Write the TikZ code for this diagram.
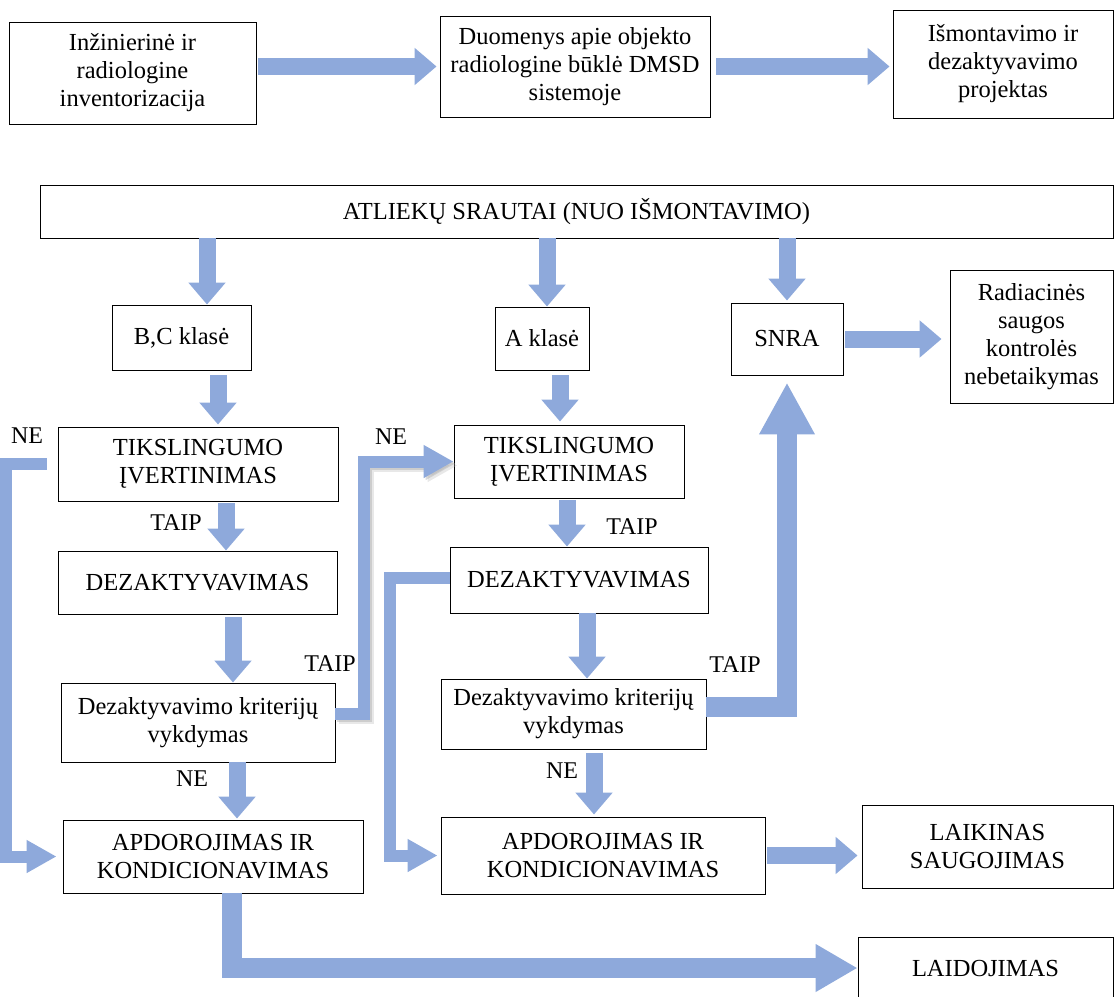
\documentclass[tikz,border=0pt]{standalone}
\usepackage{fontspec}
\setmainfont{Liberation Serif}
\usetikzlibrary{arrows.meta}
\definecolor{flowblue}{RGB}{142,169,219}

\begin{document}
\begin{tikzpicture}[x=1pt,y=-1pt,
                box/.style = {draw, line width=0.9pt, align=center, inner sep=2pt, font=\fontsize{24.5}{28}\selectfont},
                lbl/.style = {font=\fontsize{24}{28}\selectfont},
                flow/.style = {draw=flowblue, line width=17pt, -{Triangle[width=36pt,length=22pt]}},
                thinflow/.style = {draw=flowblue, line width=12pt, -{Triangle[width=31pt,length=30pt]}},
                bigflow/.style = {draw=flowblue, line width=20pt, -{Triangle[width=52pt,length=52pt]}}]
                \useasboundingbox (0,0) rectangle (1115,996);
                % top row
                \node[box, minimum width=247pt, minimum height=102pt] (inz) at (132.5,73) {Inžinierinė ir\\radiologine\\inventorizacija};
                \node[box, minimum width=270pt, minimum height=101pt] (duom) at (575,66.5) {Duomenys apie objekto\\radiologine būklė DMSD\\sistemoje};
                \node[box, minimum width=220pt, minimum height=108pt] (ismont) at (1003,64) {Išmontavimo ir\\dezaktyvavimo\\projektas};
                % waste streams
                \node[box, minimum width=1073pt, minimum height=53pt] (atl) at (576.5,211.5) {ATLIEKŲ SRAUTAI (NUO IŠMONTAVIMO)};
                \node[box, minimum width=139pt, minimum height=65pt] (bc) at (181.5,337.5) {B,C klasė};
                \node[box, minimum width=94pt, minimum height=63pt] (akl) at (542,338.5) {A klasė};
                \node[box, minimum width=112pt, minimum height=72pt] (snra) at (787,339) {SNRA};
                \node[box, minimum width=163pt, minimum height=133pt] (rad) at (1031.5,336.5) {Radiacinės\\saugos\\kontrolės\\nebetaikymas};
                \node[box, minimum width=280pt, minimum height=74pt] (tik1) at (198,464) {TIKSLINGUMO\\ĮVERTINIMAS};
                \node[box, minimum width=230pt, minimum height=73pt] (tik2) at (569,461.5) {TIKSLINGUMO\\ĮVERTINIMAS};
                \node[box, minimum width=279pt, minimum height=63pt] (dez1) at (197.5,582.5) {DEZAKTYVAVIMAS};
                \node[box, minimum width=258pt, minimum height=66pt] (dez2) at (579,580) {DEZAKTYVAVIMAS};
                \node[box, minimum width=274pt, minimum height=79pt] (krit1) at (198,722.5) {Dezaktyvavimo kriterijų\\vykdymas};
                \node[box, minimum width=265pt, minimum height=70pt] (krit2) at (573.5,714) {Dezaktyvavimo kriterijų\\vykdymas};
                \node[box, minimum width=300pt, minimum height=73pt] (apd1) at (213,856.5) {APDOROJIMAS IR\\KONDICIONAVIMAS};
                \node[box, minimum width=324pt, minimum height=77pt] (apd2) at (603,855.5) {APDOROJIMAS IR\\KONDICIONAVIMAS};
                \node[box, minimum width=251pt, minimum height=83pt] (laik) at (987.5,846.5) {LAIKINAS\\SAUGOJIMAS};
                \node[box, minimum width=255pt, minimum height=62pt] (laid) at (985.5,968) {LAIDOJIMAS};
                % labels
                \node[lbl] (ne1) at (27,436) {NE};
                \node[lbl] (ne2) at (391,437) {NE};
                \node[lbl] (ne3) at (192,779) {NE};
                \node[lbl] (ne4) at (562,771) {NE};
                \node[lbl] (taip1) at (176,523) {TAIP};
                \node[lbl] (taip2) at (330,664) {TAIP};
                \node[lbl] (taip3) at (632,527) {TAIP};
                \node[lbl] (taip4) at (735,665) {TAIP};
                % arrow ends
                \coordinate (bcin) at ([xshift=25.5pt]bc.north);
                \coordinate (akin) at ([xshift=5pt]akl.north);
                \coordinate (bcout) at ([xshift=36.5pt]bc.south);
                \coordinate (akout) at ([xshift=18pt]akl.south);
                \coordinate (t1out) at ([xshift=28pt]tik1.south);
                \coordinate (t2out) at ([xshift=-2pt]tik2.south);
                \coordinate (d1out) at ([xshift=35.5pt]dez1.south);
                \coordinate (d2out) at ([xshift=8pt]dez2.south);
                \coordinate (k1out) at ([xshift=39pt]krit1.south);
                \coordinate (k2out) at ([xshift=20.5pt]krit2.south);
                \coordinate (k1east) at ([yshift=9pt]krit1.east);
                \coordinate (k2east) at ([yshift=7pt]krit2.east);
                \coordinate (d2west) at ([yshift=2pt]dez2.west);
                \coordinate (a1out) at ([xshift=19pt]apd1.south);
                % arrows
                \draw[flow, shorten <=2pt, shorten >=3pt] (inz.east |- duom.west) -- (duom.west);
                \draw[flow, shorten <=6pt, shorten >=3pt] (duom.east) -- (duom.east -| ismont.west);
                \draw[flow] (atl.south -| bcin) -- (bcin);
                \draw[flow] (atl.south -| akin) -- (akin);
                \draw[flow, shorten >=2pt] (atl.south -| snra.north) -- (snra.north);
                \draw[flow, shorten <=2pt, shorten >=8pt] (snra.east) -- (snra.east -| rad.west);
                \draw[flow, shorten <=5pt, shorten >=2pt] (bcout) -- (bcout |- tik1.north);
                \draw[flow, shorten <=5pt, shorten >=3pt] (akout) -- (akout |- tik2.north);
                \draw[flow, shorten <=2pt] (t1out) -- (t1out |- dez1.north);
                \draw[flow, shorten <=2pt] (t2out) -- (t2out |- dez2.north);
                \draw[flow, shorten <=3pt] (d1out) -- (d1out |- krit1.north);
                \draw[flow] (d2out) -- (d2out |- krit2.north);
                \draw[flow, shorten >=1pt] (k1out) -- (k1out |- apd1.north);
                \draw[flow, shorten <=4pt, shorten >=2pt] (k2out) -- (k2out |- apd2.north);
                \draw[flow, shorten <=2pt, shorten >=4pt] (apd2.east) -- (apd2.east -| laik.west);
                \draw[thinflow, shorten <=11pt, shorten >=6pt] (tik1.west) -- ++(-52,0) |- (apd1.west);
                \draw[thinflow, draw=black!30, opacity=0.3, transform canvas={shift={(4pt,-4pt)}}] (k1east) -- ++(29,0) |- (tik2.west);
                \draw[thinflow, draw=black!35, opacity=0.4, transform canvas={shift={(2pt,-2pt)}}] (k1east) -- ++(29,0) |- (tik2.west);
                \draw[thinflow] (k1east) -- ++(29,0) |- (tik2.west);
                \draw[thinflow, shorten >=3pt] (d2west) -- ++(-60,0) |- (apd2.west);
                \draw[bigflow, shorten >=7pt] (k2east) -| (snra.south);
                \draw[bigflow, -{Triangle[width=45pt,length=42pt]}] (a1out) |- (laid.west);
\end{tikzpicture}
\end{document}
